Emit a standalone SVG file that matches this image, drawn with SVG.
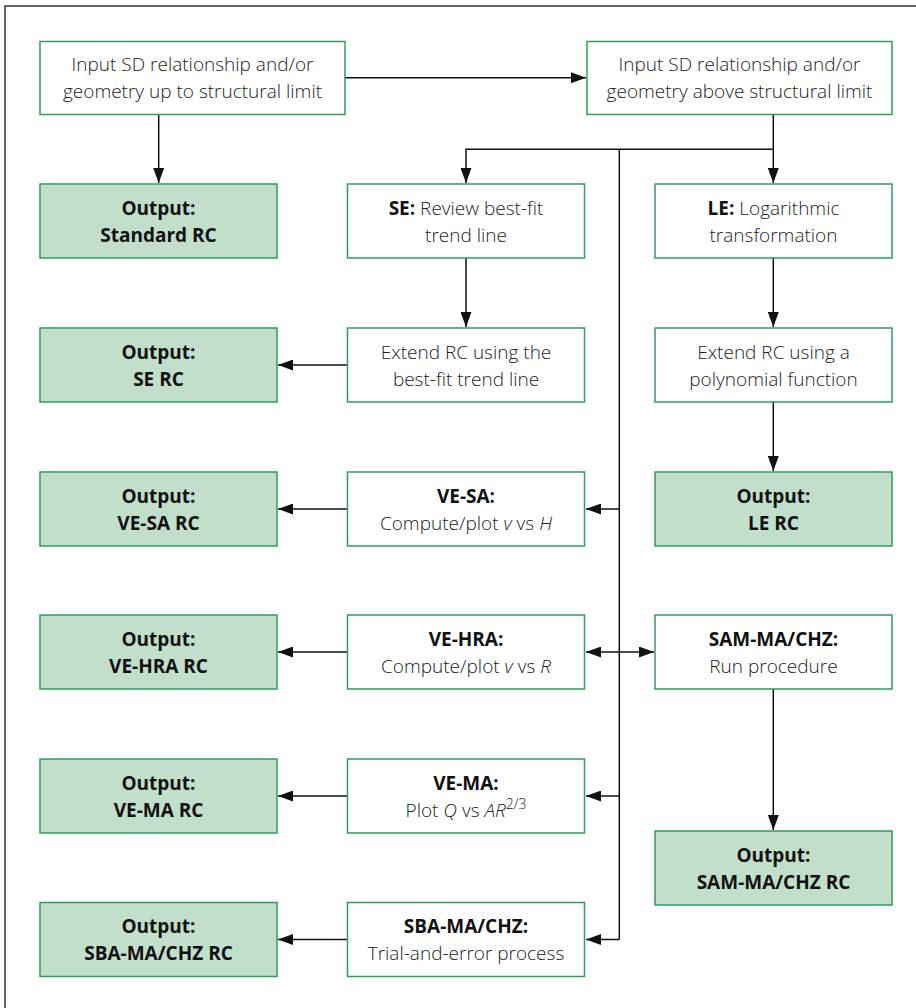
<svg xmlns="http://www.w3.org/2000/svg" width="916" height="1008" viewBox="0 0 916 1008">
<style>
.frame{fill:none;stroke:#333;stroke-width:1.5}
.box{fill:#fff;stroke:#2f9e58;stroke-width:1.5}
.out{fill:#c2dfcb;stroke:#2f9e58;stroke-width:1.5}
.t{font-family:"Open Sans","Liberation Sans",sans-serif;font-size:19px;font-weight:300;fill:#222;text-anchor:middle}
.b{font-weight:700;fill:#111}
.i{font-style:italic}
.c{fill:none;stroke:#111;stroke-width:1.5}
</style>
<defs>
<marker id="ah" markerUnits="userSpaceOnUse" markerWidth="15" markerHeight="11" refX="15" refY="5.5" orient="auto-start-reverse">
<path d="M0,0 L15,5.5 L0,11 z" fill="#111"/>
</marker>
</defs>
<rect x="0" y="0" width="916" height="1008" fill="#fff"/>
<path class="frame" d="M5,1010 V6 H918"/>

<g id="connectors">
<path class="c" d="M345,77.7 H586" marker-end="url(#ah)"/>
<path class="c" d="M158.7,115 V183" marker-end="url(#ah)"/>
<path class="c" d="M773.3,115 V183" marker-end="url(#ah)"/>
<path class="c" d="M773.3,149.3 H466 V183" marker-end="url(#ah)"/>
<path class="c" d="M619.3,149.3 V939.5"/>
<path class="c" d="M466,258 V327" marker-end="url(#ah)"/>
<path class="c" d="M347.5,365 H278" marker-end="url(#ah)"/>
<path class="c" d="M773.3,258 V327" marker-end="url(#ah)"/>
<path class="c" d="M773.3,402 V471" marker-end="url(#ah)"/>
<path class="c" d="M619.3,509 H586" marker-end="url(#ah)"/>
<path class="c" d="M347.5,509 H278" marker-end="url(#ah)"/>
<path class="c" d="M586,652 H654" marker-start="url(#ah)" marker-end="url(#ah)"/>
<path class="c" d="M347.5,652 H278" marker-end="url(#ah)"/>
<path class="c" d="M773.3,689 V830" marker-end="url(#ah)"/>
<path class="c" d="M619.3,796 H586" marker-end="url(#ah)"/>
<path class="c" d="M347.5,796 H278" marker-end="url(#ah)"/>
<path class="c" d="M619.3,939.5 H586" marker-end="url(#ah)"/>
<path class="c" d="M347.5,939.5 H278" marker-end="url(#ah)"/>
</g>

<g id="in1">
<rect class="box" x="40" y="41.5" width="305" height="73"/>
<text class="t" x="192.5" y="71">Input SD relationship and/or</text>
<text class="t" x="192.5" y="98.3">geometry up to structural limit</text>
</g>
<g id="in2">
<rect class="box" x="587" y="41.5" width="305" height="73"/>
<text class="t" x="739.5" y="71">Input SD relationship and/or</text>
<text class="t" x="739.5" y="98.3">geometry above structural limit</text>
</g>

<g id="out-standard">
<rect class="out" x="40" y="184" width="237" height="74"/>
<text class="t b" x="158.5" y="214.5">Output:</text>
<text class="t b" x="158.5" y="241.5">Standard RC</text>
</g>
<g id="se">
<rect class="box" x="347.5" y="184" width="237" height="74"/>
<text class="t" x="466" y="214.5"><tspan class="b">SE:</tspan> Review best-fit</text>
<text class="t" x="466" y="241.5">trend line</text>
</g>
<g id="le">
<rect class="box" x="655" y="184" width="237" height="74"/>
<text class="t" x="773.5" y="214.5"><tspan class="b">LE:</tspan> Logarithmic</text>
<text class="t" x="773.5" y="241.5">transformation</text>
</g>

<g id="out-se">
<rect class="out" x="40" y="328" width="237" height="74"/>
<text class="t b" x="158.5" y="358.5">Output:</text>
<text class="t b" x="158.5" y="385.5">SE RC</text>
</g>
<g id="se-extend">
<rect class="box" x="347.5" y="328" width="237" height="74"/>
<text class="t" x="466" y="358.5">Extend RC using the</text>
<text class="t" x="466" y="385.5">best-fit trend line</text>
</g>
<g id="le-extend">
<rect class="box" x="655" y="328" width="237" height="74"/>
<text class="t" x="773.5" y="358.5">Extend RC using a</text>
<text class="t" x="773.5" y="385.5">polynomial function</text>
</g>

<g id="out-vesa">
<rect class="out" x="40" y="472" width="237" height="74"/>
<text class="t b" x="158.5" y="502.5">Output:</text>
<text class="t b" x="158.5" y="529.5">VE-SA RC</text>
</g>
<g id="vesa">
<rect class="box" x="347.5" y="472" width="237" height="74"/>
<text class="t b" x="466" y="502.5">VE-SA:</text>
<text class="t" x="466" y="529.5">Compute/plot <tspan class="i">v</tspan> vs <tspan class="i">H</tspan></text>
</g>
<g id="out-le">
<rect class="out" x="655" y="472" width="237" height="74"/>
<text class="t b" x="773.5" y="502.5">Output:</text>
<text class="t b" x="773.5" y="529.5">LE RC</text>
</g>

<g id="out-vehra">
<rect class="out" x="40" y="615" width="237" height="74"/>
<text class="t b" x="158.5" y="645.5">Output:</text>
<text class="t b" x="158.5" y="672.5">VE-HRA RC</text>
</g>
<g id="vehra">
<rect class="box" x="347.5" y="615" width="237" height="74"/>
<text class="t b" x="466" y="645.5">VE-HRA:</text>
<text class="t" x="466" y="672.5">Compute/plot <tspan class="i">v</tspan> vs <tspan class="i">R</tspan></text>
</g>
<g id="sam">
<rect class="box" x="655" y="615" width="237" height="74"/>
<text class="t b" x="773.5" y="645.5">SAM-MA/CHZ:</text>
<text class="t" x="773.5" y="672.5">Run procedure</text>
</g>

<g id="out-vema">
<rect class="out" x="40" y="759" width="237" height="74"/>
<text class="t b" x="158.5" y="789.5">Output:</text>
<text class="t b" x="158.5" y="816.5">VE-MA RC</text>
</g>
<g id="vema">
<rect class="box" x="347.5" y="759" width="237" height="74"/>
<text class="t b" x="466" y="789.5">VE-MA:</text>
<text class="t" x="466" y="816.5">Plot <tspan class="i">Q</tspan> vs <tspan class="i">AR</tspan><tspan font-size="14" dy="-8">2/3</tspan></text>
</g>
<g id="out-sam">
<rect class="out" x="655" y="831" width="237" height="74"/>
<text class="t b" x="773.5" y="861.5">Output:</text>
<text class="t b" x="773.5" y="888.5">SAM-MA/CHZ RC</text>
</g>

<g id="out-sba">
<rect class="out" x="40" y="902.5" width="237" height="74"/>
<text class="t b" x="158.5" y="933">Output:</text>
<text class="t b" x="158.5" y="960">SBA-MA/CHZ RC</text>
</g>
<g id="sba">
<rect class="box" x="347.5" y="902.5" width="237" height="74"/>
<text class="t b" x="466" y="933">SBA-MA/CHZ:</text>
<text class="t" x="466" y="960">Trial-and-error process</text>
</g>
</svg>
